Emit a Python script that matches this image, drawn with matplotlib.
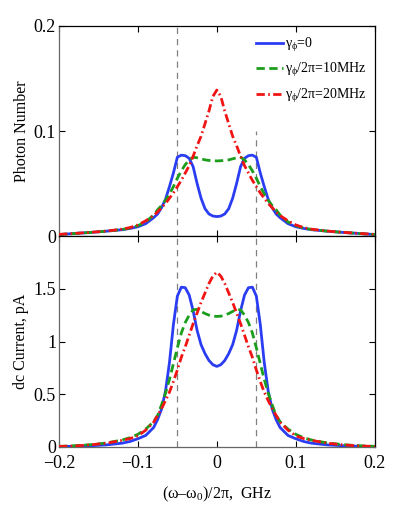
import numpy as np
import matplotlib
matplotlib.use("Agg")
import matplotlib.pyplot as plt
from matplotlib.ticker import FixedLocator

plt.rcParams['font.family'] = ['Liberation Serif', 'DejaVu Serif']
plt.rcParams['mathtext.fontset'] = 'custom'
plt.rcParams['mathtext.rm'] = 'Liberation Serif'
plt.rcParams['mathtext.it'] = 'Liberation Serif:italic'
plt.rcParams['font.size'] = 11

# detuning (GHz)
detuning = [-0.2, -0.18, -0.16, -0.14, -0.12, -0.11, -0.1, -0.09, -0.08, -0.075,
            -0.07, -0.065, -0.06, -0.055, -0.05, -0.045, -0.04, -0.035, -0.03,
            -0.025, -0.02, -0.015, -0.01, -0.005, 0.0,
            0.005, 0.01, 0.015, 0.02, 0.025, 0.03, 0.035, 0.04, 0.045, 0.05,
            0.055, 0.06, 0.065, 0.07, 0.075, 0.08, 0.09, 0.1, 0.11, 0.12,
            0.14, 0.16, 0.18, 0.2]

# photon number
photon_g0 = [0.0014, 0.0024, 0.0034, 0.0046, 0.006, 0.0072, 0.0088, 0.0118, 0.0175, 0.021,
             0.027, 0.035, 0.047, 0.060, 0.075, 0.077, 0.0765, 0.074, 0.066,
             0.050, 0.036, 0.026, 0.021, 0.019, 0.0185,
             0.019, 0.021, 0.026, 0.036, 0.050, 0.066, 0.074, 0.0765, 0.077, 0.075,
             0.060, 0.047, 0.035, 0.027, 0.021, 0.0175, 0.0118, 0.0088, 0.0072, 0.006,
             0.0046, 0.0034, 0.0024, 0.0014]
photon_g10 = [0.0014, 0.0024, 0.0034, 0.0046, 0.0062, 0.0076, 0.0098, 0.0135, 0.020, 0.025,
              0.029, 0.034, 0.040, 0.047, 0.055, 0.062, 0.068, 0.0725, 0.075,
              0.0745, 0.0735, 0.0725, 0.072, 0.0717, 0.0715,
              0.0717, 0.072, 0.0725, 0.0735, 0.0745, 0.075, 0.0725, 0.068, 0.062, 0.055,
              0.047, 0.040, 0.034, 0.029, 0.025, 0.020, 0.0135, 0.0098, 0.0076, 0.0062,
              0.0046, 0.0034, 0.0024, 0.0014]
photon_g20 = [0.0015, 0.0025, 0.0035, 0.0047, 0.0065, 0.008, 0.0105, 0.0145, 0.0195, 0.023,
              0.027, 0.031, 0.036, 0.041, 0.047, 0.053, 0.060, 0.067, 0.076,
              0.086, 0.095, 0.107, 0.119, 0.133, 0.139,
              0.133, 0.119, 0.107, 0.095, 0.086, 0.076, 0.067, 0.060, 0.053, 0.047,
              0.041, 0.036, 0.031, 0.027, 0.023, 0.0195, 0.0145, 0.0105, 0.008, 0.0065,
              0.0047, 0.0035, 0.0025, 0.0015]

# dc current (pA)
current_g0 = [0.004, 0.007, 0.012, 0.02, 0.036, 0.052, 0.078, 0.11, 0.185, 0.26,
              0.36, 0.53, 0.80, 1.16, 1.43, 1.515, 1.51, 1.44, 1.29,
              1.105, 0.97, 0.885, 0.82, 0.78, 0.764,
              0.78, 0.82, 0.885, 0.97, 1.105, 1.29, 1.44, 1.51, 1.515, 1.43,
              1.16, 0.80, 0.53, 0.36, 0.26, 0.185, 0.11, 0.078, 0.052, 0.036,
              0.02, 0.012, 0.007, 0.004]
current_g10 = [0.006, 0.012, 0.022, 0.038, 0.066, 0.088, 0.12, 0.17, 0.24, 0.30,
               0.40, 0.51, 0.64, 0.79, 0.94, 1.08, 1.18, 1.25, 1.30,
               1.305, 1.285, 1.265, 1.25, 1.24, 1.238,
               1.24, 1.25, 1.265, 1.285, 1.305, 1.30, 1.25, 1.18, 1.08, 0.94,
               0.79, 0.64, 0.51, 0.40, 0.30, 0.24, 0.17, 0.12, 0.088, 0.066,
               0.038, 0.022, 0.012, 0.006]
current_g20 = [0.005, 0.01, 0.02, 0.036, 0.063, 0.08, 0.105, 0.16, 0.235, 0.30,
               0.365, 0.44, 0.52, 0.62, 0.73, 0.85, 0.95, 1.06, 1.17,
               1.27, 1.37, 1.46, 1.55, 1.62, 1.657,
               1.62, 1.55, 1.46, 1.37, 1.27, 1.17, 1.06, 0.95, 0.85, 0.73,
               0.62, 0.52, 0.44, 0.365, 0.30, 0.235, 0.16, 0.105, 0.08, 0.063,
               0.036, 0.02, 0.01, 0.005]

labels = [r'$\mathrm{\gamma_{\phi}}$=0',
          r'$\mathrm{\gamma_{\phi}}$/2π=10MHz',
          r'$\mathrm{\gamma_{\phi}}$/2π=20MHz']
colors = ['#2b3df2', '#1c9e1c', '#f01414']
styles = ['-', (0, (3.0, 1.6)), (0, (3.0, 1.2, 0.6, 1.2))]

fig = plt.figure(figsize=(3.95, 5.26), dpi=100)
ax1 = fig.add_axes([0.149, 0.5513, 0.80, 0.3993])
ax2 = fig.add_axes([0.149, 0.1502, 0.80, 0.4011])

for ax, series in [(ax1, [photon_g0, photon_g10, photon_g20]),
                   (ax2, [current_g0, current_g10, current_g20])]:
    for y, c, ls, lab in zip(series, colors, styles, labels):
        ax.plot(detuning, y, color=c, linestyle=ls, linewidth=2.0, label=lab, zorder=3)
    ax.set_xlim(-0.2, 0.2)
    ax.xaxis.set_major_locator(FixedLocator([-0.2, -0.1, 0, 0.1, 0.2]))
    ax.tick_params(direction='in', length=4, width=0.8, top=True, right=True,
                   labelsize=13, pad=2)
    ax.tick_params(axis='x', pad=6)
    for side in ['top', 'right']:
        ax.spines[side].set_color('black')
    for side in ['left', 'bottom']:
        ax.spines[side].set_color('#666666')
    for s in ax.spines.values():
        s.set_linewidth(0.9)

# vertical dashed markers
ax1.plot([-0.05, -0.05], [0, 0.2], color='#808080', linestyle=(0, (5, 4)), linewidth=0.9, zorder=1)
ax1.plot([0.05, 0.05], [0, 0.1], color='#808080', linestyle=(0, (5, 4)), linewidth=0.9, zorder=1)
ax2.plot([-0.05, -0.05], [0, 2], color='#808080', linestyle=(0, (5, 4)), linewidth=0.9, zorder=1)
ax2.plot([0.05, 0.05], [0, 2], color='#808080', linestyle=(0, (5, 4)), linewidth=0.9, zorder=1)

ax1.set_ylim(0, 0.2)
ax1.set_yticks([0, 0.1, 0.2])
ax1.set_yticklabels(['0', '0.1', '0.2'])
ax1.set_xticklabels([])
ax1.set_ylabel('Photon Number', fontsize=11.5, labelpad=3)

ax2.set_ylim(0, 2)
ax2.set_yticks([0, 0.5, 1, 1.5])
ax2.set_yticklabels(['0', '0.5', '1', '1.5'])
ax2.set_xticklabels(['\u22120.2', '\u22120.1', '0', '0.1', '0.2'])
ax2.set_ylabel('dc Current, pA', fontsize=11.5, labelpad=3)
ax2.set_xlabel('(ω–ω$_0$)/2π,  GHz', fontsize=11.5, labelpad=9)

leg = ax1.legend(loc='upper right', frameon=False, fontsize=10, handlelength=1.9,
                 handletextpad=0.2, labelspacing=0.55, borderaxespad=0.3,
                 bbox_to_anchor=(1.005, 1.0))

fig.savefig('out.png', dpi=100)
